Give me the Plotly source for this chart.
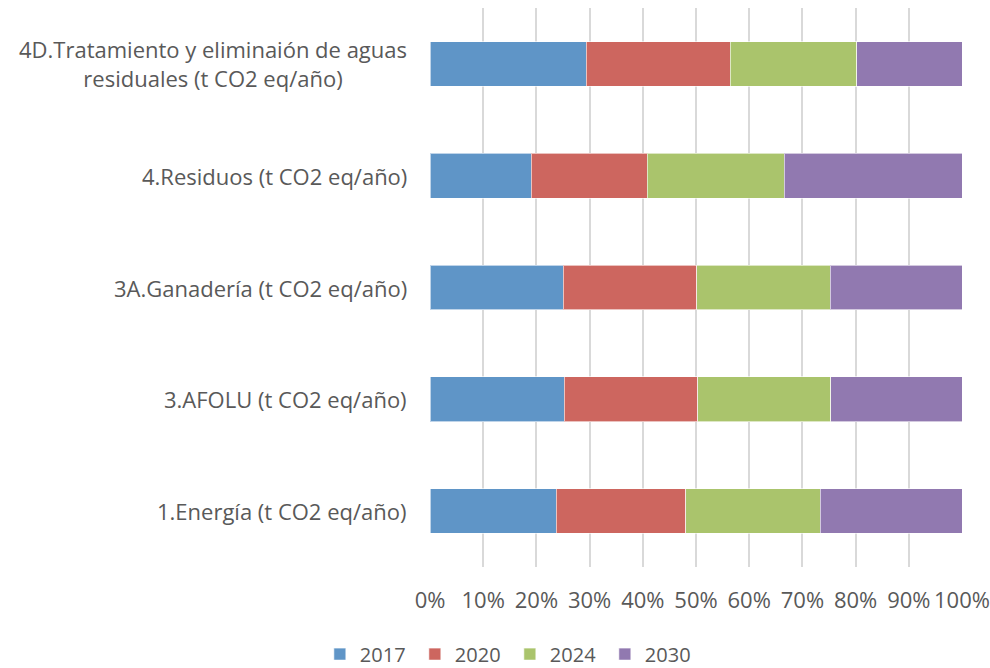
import plotly.graph_objects as go

# Category labels (bottom to top) and share of each year, in percent
categories = [
    "1.Energía (t CO2 eq/año)",
    "3.AFOLU (t CO2 eq/año)",
    "3A.Ganadería (t CO2 eq/año)",
    "4.Residuos (t CO2 eq/año)",
    "4D.Tratamiento y eliminaión de aguas<br>residuales (t CO2 eq/año)",
]
years = ["2017", "2020", "2024", "2030"]
share_2017 = [23.7, 25.2, 25.0, 19.0, 29.4]
share_2020 = [24.4, 25.1, 25.1, 21.8, 27.0]
share_2024 = [25.3, 25.0, 25.1, 25.8, 23.8]
share_2030 = [26.6, 24.7, 24.8, 33.4, 19.8]
colors = ["#5F95C7", "#CD665F", "#AAC46C", "#9179B0"]
x_ticks = [0, 10, 20, 30, 40, 50, 60, 70, 80, 90, 100]

FONT = "Open Sans"
SIZE = 22
TXT = "#595959"

fig = go.Figure()
for year, vals, col in zip(years, [share_2017, share_2020, share_2024, share_2030], colors):
    fig.add_trace(go.Bar(
        y=list(range(len(categories))), x=vals, name=year, orientation="h",
        marker=dict(color=col, line=dict(color="rgba(255,255,255,0.6)", width=1)),
    ))

# Category labels, centered per line and right-aligned against the axis
for i, cat in enumerate(categories):
    fig.add_annotation(
        x=0, xref="paper", xshift=-21, y=i, yref="y",
        text=cat, showarrow=False, xanchor="right", yanchor="middle",
        align="center", font=dict(family=FONT, size=SIZE, color=TXT),
    )

fig.update_layout(
    width=990, height=668,
    margin=dict(l=430, r=28, t=8, b=101, autoexpand=False),
    barmode="stack", barnorm="percent", bargap=0.6,
    plot_bgcolor="white", paper_bgcolor="white",
    font=dict(family=FONT, size=SIZE, color=TXT),
    showlegend=True,
    legend=dict(
        orientation="h", xref="container", yref="container",
        x=0.515, xanchor="center", y=0.05, yanchor="top",
        font=dict(family=FONT, size=20, color=TXT),
        traceorder="normal", itemwidth=30, entrywidth=50,
    ),
    xaxis=dict(
        range=[0, 100], tickvals=x_ticks, ticktext=[f"{v}%" for v in x_ticks],
        showgrid=True, gridcolor="#D9D9D9", gridwidth=1.5, zeroline=False,
        showline=False, ticks="", ticklabelstandoff=18, automargin=False,
        tickfont=dict(family=FONT, size=SIZE, color=TXT),
    ),
    yaxis=dict(
        range=[-0.5, 4.5], showticklabels=False, showgrid=False,
        zeroline=False, showline=False, ticks="", automargin=False,
    ),
)

fig.write_html("out.html")
